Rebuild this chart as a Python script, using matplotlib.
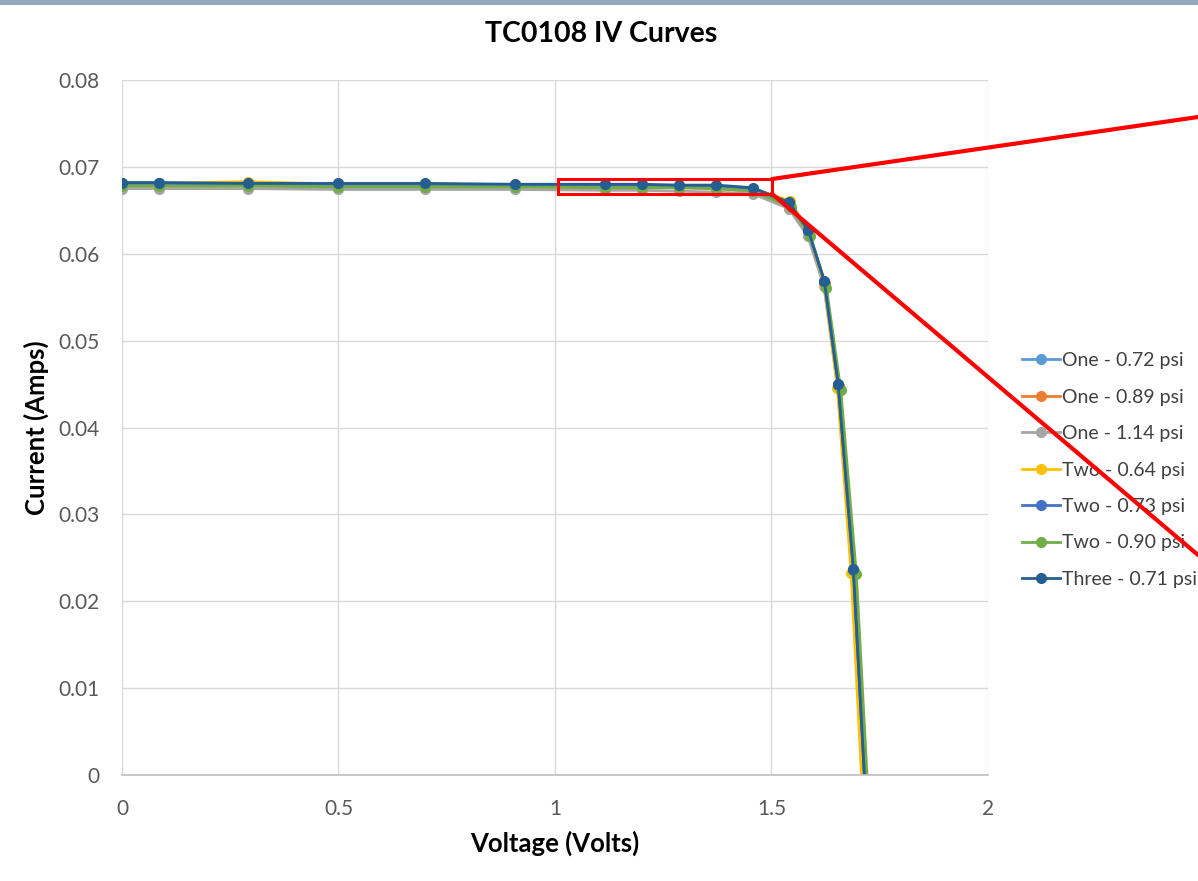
import matplotlib
matplotlib.use('Agg')
import matplotlib.pyplot as plt
import matplotlib.ticker as mticker
from matplotlib.patches import Rectangle, ConnectionPatch

plt.rcParams['font.family'] = ['Lato', 'DejaVu Sans']

# --- data ---
labels = ["One - 0.72 psi", "One - 0.89 psi", "One - 1.14 psi",
          "Two - 0.64 psi", "Two - 0.73 psi", "Two - 0.90 psi",
          "Three - 0.71 psi"]
colors = ["#5B9BD5", "#ED7D31", "#A5A5A5", "#FFC000", "#4472C4", "#70AD47", "#255E91"]

v_one_072 = [0, 0.085, 0.29, 0.50, 0.70, 0.907, 1.115, 1.20, 1.287, 1.373, 1.457, 1.542, 1.586, 1.623, 1.655, 1.690, 1.723]
i_one_072 = [0.0679, 0.0679, 0.0679, 0.0678, 0.0678, 0.0678, 0.0677, 0.0677, 0.0677, 0.0676, 0.0673, 0.0657, 0.0624, 0.0566, 0.0448, 0.0235, -0.0070]

v_one_089 = [0, 0.085, 0.29, 0.50, 0.70, 0.907, 1.115, 1.20, 1.287, 1.373, 1.457, 1.542, 1.586, 1.623, 1.655, 1.690, 1.723]
i_one_089 = [0.0678, 0.0678, 0.0678, 0.0677, 0.0677, 0.0677, 0.0676, 0.0676, 0.0676, 0.0675, 0.0672, 0.0656, 0.0623, 0.0565, 0.0447, 0.0234, -0.0070]

v_one_114 = [0, 0.085, 0.29, 0.50, 0.70, 0.907, 1.115, 1.20, 1.287, 1.373, 1.457, 1.540, 1.584, 1.621, 1.653, 1.688, 1.721]
i_one_114 = [0.0675, 0.0675, 0.0675, 0.0674, 0.0674, 0.0674, 0.0673, 0.0673, 0.0672, 0.0671, 0.0669, 0.0652, 0.0620, 0.0563, 0.0446, 0.0233, -0.0070]

v_two_064 = [0, 0.085, 0.29, 0.50, 0.70, 0.907, 1.115, 1.20, 1.287, 1.373, 1.457, 1.543, 1.586, 1.622, 1.652, 1.684, 1.716]
i_two_064 = [0.0681, 0.0681, 0.0683, 0.0680, 0.0680, 0.0679, 0.0679, 0.0679, 0.0678, 0.0678, 0.0675, 0.0661, 0.0626, 0.0565, 0.0446, 0.0232, -0.0080]

v_two_073 = [0, 0.085, 0.29, 0.50, 0.70, 0.907, 1.115, 1.20, 1.287, 1.373, 1.457, 1.541, 1.585, 1.622, 1.654, 1.689, 1.722]
i_two_073 = [0.0681, 0.0681, 0.0680, 0.0680, 0.0680, 0.0679, 0.0679, 0.0679, 0.0678, 0.0678, 0.0675, 0.0658, 0.0626, 0.0568, 0.0449, 0.0236, -0.0070]

v_two_090 = [0, 0.085, 0.29, 0.50, 0.70, 0.907, 1.115, 1.20, 1.287, 1.373, 1.457, 1.545, 1.590, 1.627, 1.660, 1.696, 1.728]
i_two_090 = [0.0678, 0.0678, 0.0678, 0.0677, 0.0677, 0.0677, 0.0676, 0.0676, 0.0676, 0.0675, 0.0672, 0.0654, 0.0620, 0.0561, 0.0443, 0.0231, -0.0070]

v_three_071 = [0, 0.085, 0.29, 0.50, 0.70, 0.907, 1.115, 1.20, 1.287, 1.373, 1.457, 1.541, 1.585, 1.622, 1.654, 1.689, 1.722]
i_three_071 = [0.0682, 0.0682, 0.0681, 0.0681, 0.0681, 0.0680, 0.0680, 0.0680, 0.0679, 0.0679, 0.0676, 0.0659, 0.0627, 0.0569, 0.0450, 0.0237, -0.0070]

series = [(v_one_072, i_one_072), (v_one_089, i_one_089), (v_one_114, i_one_114),
          (v_two_064, i_two_064), (v_two_073, i_two_073), (v_two_090, i_two_090),
          (v_three_071, i_three_071)]

x_ticks = [0, 0.5, 1, 1.5, 2]
y_ticks = [0, 0.01, 0.02, 0.03, 0.04, 0.05, 0.06, 0.07, 0.08]

# zoom box shown in red on the reference
box_x = (1.007, 1.501)
box_y = (0.0669, 0.0686)

fig = plt.figure(figsize=(11.98, 8.81), dpi=100)
ax = fig.add_axes([0.1018, 0.1203, 0.7229, 0.7889])

for (v, i), lab, col in zip(series, labels, colors):
    ax.plot(v, i, color=col, linewidth=2.0, marker='o', markersize=7,
            label=lab, solid_joinstyle='round')

ax.set_xlim(0, 2)
ax.set_ylim(0, 0.08)
ax.set_xticks(x_ticks)
ax.set_yticks(y_ticks)
ax.xaxis.set_major_formatter(mticker.FuncFormatter(lambda v, _: f"{v:g}"))
ax.yaxis.set_major_formatter(mticker.FuncFormatter(lambda v, _: "0" if v == 0 else f"{v:.2f}"))
ax.tick_params(length=0, labelsize=15, labelcolor='#595959')
ax.tick_params(axis='x', pad=17)
ax.tick_params(axis='y', pad=16)
ax.grid(True, color='#D9D9D9', linewidth=1)
ax.set_axisbelow(True)
for side in ['top', 'right', 'left']:
    ax.spines[side].set_visible(False)
ax.spines['bottom'].set_color('#BFBFBF')
ax.spines['bottom'].set_linewidth(1.2)

ax.set_xlabel("Voltage (Volts)", fontsize=18.5, fontweight='bold', labelpad=9)
ax.set_ylabel("Current (Amps)", fontsize=18.5, fontweight='bold', labelpad=7)
fig.text(0.502, 1 - 34 / 881, "TC0108 IV Curves", fontsize=20.5, fontweight='bold',
         ha='center', va='center')

leg = fig.legend(loc='center left', bbox_to_anchor=(0.853, 0.4665), frameon=False,
                 fontsize=14, handlelength=1.95, handletextpad=0.1,
                 labelspacing=1.0, borderaxespad=0, borderpad=0)
for t in leg.get_texts():
    t.set_color('#404040')

# red callout box and lines
ax.add_patch(Rectangle((box_x[0], box_y[0]), box_x[1] - box_x[0], box_y[1] - box_y[0],
                       fill=False, edgecolor='#FF0000', linewidth=2.2, zorder=10))
for yv, yf in [(box_y[1], 1 - 117 / 881), (box_y[0], 1 - 555 / 881)]:
    con = ConnectionPatch(xyA=(box_x[1], yv), coordsA='data', axesA=ax,
                          xyB=(1.0, yf), coordsB='figure fraction',
                          color='#FF0000', linewidth=3, zorder=10)
    fig.add_artist(con)

# thin blue-grey strip along the top edge
fig.add_artist(Rectangle((0, 1 - 5 / 881), 1, 5 / 881, transform=fig.transFigure,
                         facecolor='#94AAC1', edgecolor='none'))

fig.savefig('out.png', dpi=100, facecolor='white')
